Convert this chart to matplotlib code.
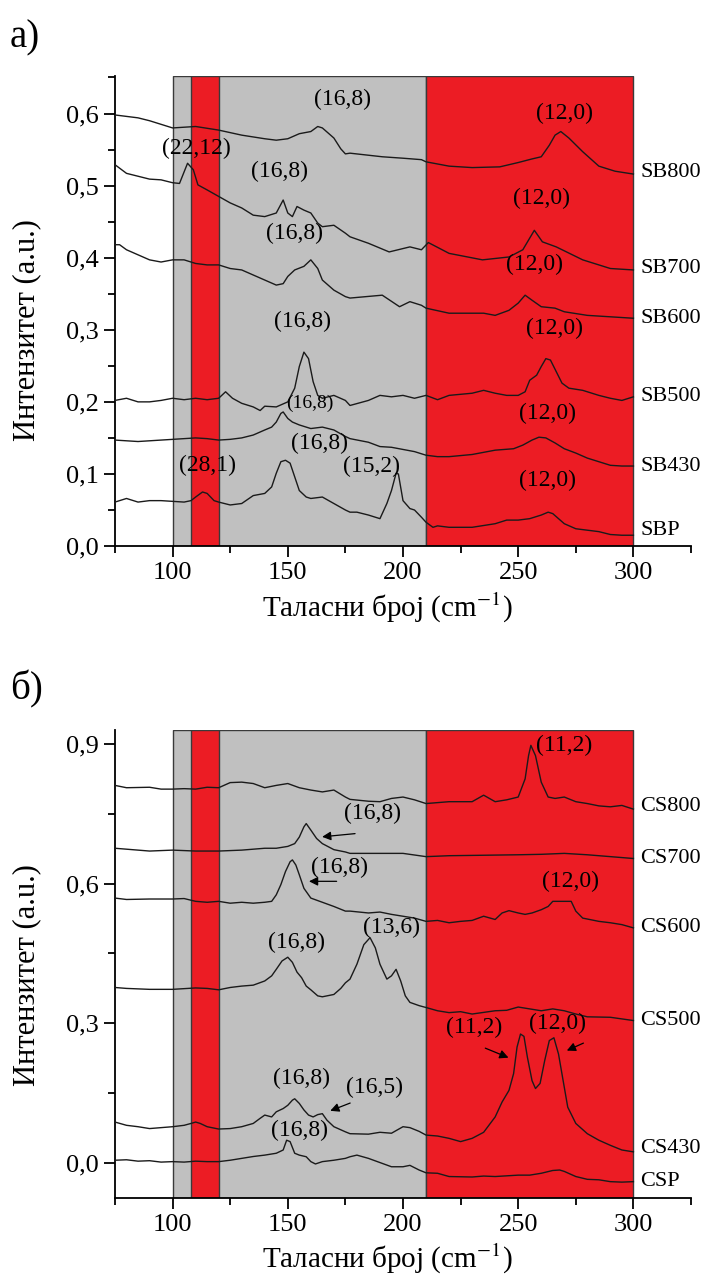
import matplotlib
matplotlib.use("Agg")
import matplotlib.pyplot as plt
from matplotlib.ticker import MultipleLocator

plt.rcParams['font.family'] = ['Liberation Serif', 'DejaVu Serif']
plt.rcParams['mathtext.fontset'] = 'stix'

# ---- panel a) SB samples ----
sb800_x = [75, 80, 85, 90, 95, 100, 110, 120, 130, 140, 145, 150, 155, 160, 163, 165, 170, 173, 175, 177,
           191, 200, 208, 210, 220, 230, 242, 250, 256, 260, 263.5, 266, 268.5, 272, 278, 285, 292, 300]
sb800_y = [.598, .596, .594, .590, .585, .580, .582, .577, .570, .565, .563, .565, .572, .575, .582, .580,
           .566, .551, .544, .545, .540, .538, .536, .533, .527, .525, .526, .532, .537, .540, .556, .570,
           .575, .566, .547, .527, .520, .516]

sb700_x = [75, 80, 85, 90, 95, 100, 103, 106.5, 109, 111, 115, 120, 125, 130, 135, 140, 145, 148, 150, 152,
           154, 157, 160, 163, 165, 170, 175, 177, 185, 194, 203, 208, 211, 220, 234.5, 246, 252, 257, 260.5,
           266.5, 278, 290, 300]
sb700_y = [.529, .517, .513, .509, .508, .504, .503, .531, .522, .501, .494, .485, .476, .469, .459, .457,
           .462, .480, .462, .457, .471, .466, .462, .448, .443, .445, .434, .429, .420, .408, .415, .411,
           .421, .406, .397, .401, .411, .438, .422, .415, .397, .385, .383]

sb600_x = [75, 77, 80, 85, 90, 95, 100, 105, 110, 115, 120, 125, 130, 135, 140, 145, 148, 150, 153, 157,
           160, 163, 165, 170, 175, 177, 191, 198.5, 203, 208, 210, 220, 235, 240, 246, 250, 253, 256, 260,
           266, 270, 280, 290, 300]
sb600_y = [.418, .418, .411, .404, .397, .394, .397, .397, .392, .390, .390, .385, .383, .376, .369, .362,
           .364, .374, .383, .388, .397, .385, .369, .355, .346, .344, .348, .332, .339, .334, .330, .323,
           .323, .320, .327, .337, .348, .341, .332, .330, .325, .320, .318, .316]

sb500_x = [75, 80, 85, 90, 95, 100, 105, 110, 115, 120, 123, 126, 130, 135, 138, 140, 145, 150, 153, 155,
           157, 159, 161, 163, 165, 170, 175, 177, 185, 190, 195, 200, 205, 210, 215, 220, 230, 235, 240,
           245, 250, 253, 255, 258, 260, 262, 264, 266.5, 269, 272, 278, 285, 290, 295, 300]
sb500_y = [.202, .205, .200, .200, .202, .205, .203, .205, .203, .205, .214, .205, .198, .193, .188, .194,
           .193, .200, .219, .249, .269, .260, .228, .209, .205, .209, .202, .195, .202, .209, .207, .209,
           .205, .209, .203, .209, .212, .216, .212, .209, .209, .214, .230, .237, .249, .260, .258, .242,
           .226, .219, .216, .209, .205, .202, .207]

sb430_x = [75, 85, 90, 100, 110, 115, 120, 125, 130, 135, 140, 143, 145, 147, 148, 150, 152, 155, 160, 165,
           170, 175, 177, 185, 190, 195, 200, 205, 210, 215, 220, 230, 240, 248, 252, 256, 259, 262, 266,
           270, 275, 280, 285, 290, 295, 300]
sb430_y = [.147, .145, .146, .148, .150, .149, .147, .148, .150, .154, .161, .165, .172, .184, .186, .177,
           .172, .168, .163, .165, .161, .152, .149, .144, .138, .137, .134, .131, .126, .124, .124, .127,
           .133, .135, .140, .147, .151, .150, .143, .135, .129, .122, .117, .112, .111, .111]

sbp_x = [75, 80, 85, 90, 95, 100, 105, 108, 110, 113, 115, 118, 120, 125, 130, 135, 140, 143, 145, 147,
         149, 151, 153, 155, 158, 160, 165, 170, 175, 177, 180, 185, 190, 193, 195, 197, 198, 200, 203, 205,
         208, 210, 213, 215, 220, 230, 240, 245, 250, 255, 260, 263, 265, 270, 275, 280, 285, 290, 295, 300]
sbp_y = [.061, .066, .061, .063, .063, .062, .061, .063, .068, .075, .073, .063, .061, .057, .059, .070,
         .073, .082, .101, .117, .119, .115, .096, .077, .068, .066, .068, .059, .050, .047, .047, .043,
         .038, .059, .077, .101, .100, .063, .052, .050, .040, .033, .026, .028, .026, .026, .031, .036,
         .036, .038, .043, .047, .045, .031, .024, .022, .020, .016, .015, .015]

# ---- panel б) CS samples ----
cs800_x = [75, 80, 90, 95, 100, 105, 110, 115, 120, 125, 130, 135, 140, 145, 150, 155, 160, 165, 170, 175,
           177, 185, 190, 195, 200, 205, 210, 220, 230, 235, 240, 245, 250, 253, 254.5, 255.5, 257.5, 260,
           263, 266, 270, 275, 280, 285, 290, 295, 300]
cs800_y = [.811, .806, .807, .803, .803, .804, .803, .807, .806, .817, .818, .815, .806, .811, .815, .806,
           .801, .797, .801, .786, .781, .777, .776, .783, .786, .780, .772, .776, .776, .790, .776, .780,
           .786, .825, .875, .897, .875, .818, .786, .783, .786, .776, .772, .767, .765, .768, .760]

cs700_x = [75, 80, 90, 100, 110, 120, 130, 140, 145, 150, 153, 155, 157, 158, 160, 162.5, 165, 170, 175,
           177, 200, 210, 220, 250, 260, 270, 280, 290, 300]
cs700_y = [.676, .674, .670, .672, .670, .670, .672, .676, .676, .680, .686, .700, .722, .729, .715, .697,
           .686, .673, .668, .665, .665, .658, .660, .662, .663, .665, .662, .658, .654]

cs600_x = [75, 80, 90, 100, 105, 110, 115, 120, 125, 130, 135, 140, 143, 145, 147, 149, 151, 152, 153.5,
           155, 157, 160, 165, 170, 175, 177, 185, 190, 195, 200, 205, 210, 215, 220, 225, 230, 235, 240,
           243, 246, 250, 253, 256, 260, 263, 265, 270, 273, 275, 278, 285, 290, 295, 300]
cs600_y = [.569, .566, .567, .567, .568, .562, .560, .562, .558, .560, .558, .560, .562, .576, .598, .626,
           .647, .651, .640, .619, .590, .569, .560, .551, .541, .541, .537, .539, .534, .530, .526, .519,
           .521, .516, .519, .521, .530, .523, .537, .542, .537, .534, .537, .544, .551, .562, .562, .562,
           .541, .526, .519, .516, .512, .505]

cs500_x = [75, 80, 90, 100, 110, 115, 120, 125, 130, 135, 140, 143, 145, 147.5, 150, 152, 154, 156, 158,
           160, 163, 165, 170, 173, 175, 177, 180, 183, 185.7, 188, 190, 193, 195, 197, 199, 201, 203, 207,
           210, 215, 220, 225, 230, 240, 245, 250, 255, 260, 265, 270, 275, 280, 290, 300]
cs500_y = [.377, .375, .373, .373, .376, .375, .372, .377, .380, .382, .391, .402, .416, .434, .442, .431,
           .410, .398, .380, .372, .359, .357, .362, .375, .387, .395, .427, .469, .484, .462, .427, .395,
           .402, .416, .391, .359, .345, .338, .334, .327, .323, .325, .320, .327, .328, .335, .331, .327,
           .331, .327, .320, .314, .313, .306]

cs430_x = [75, 80, 85, 90, 95, 100, 105, 108, 110, 112, 115, 120, 125, 130, 135, 138, 140, 143, 145, 148,
           150, 152, 153, 155, 157, 159, 161, 163, 165, 167, 170, 175, 177, 185, 190, 195, 200, 203, 207,
           210, 215, 220, 225, 230, 235, 240, 243, 246, 248, 249.5, 251, 252.5, 254, 256, 257.5, 259.5,
           261.5, 263.5, 265.5, 267.5, 269.5, 271.5, 275, 280, 285, 290, 295, 300]
cs430_y = [.088, .081, .078, .074, .076, .078, .081, .085, .088, .085, .078, .073, .074, .078, .085, .096,
           .103, .099, .110, .117, .124, .135, .138, .128, .114, .103, .099, .104, .106, .092, .078, .067,
           .063, .062, .066, .064, .078, .076, .068, .060, .058, .053, .046, .053, .066, .099, .131, .156,
           .192, .249, .277, .272, .227, .177, .160, .171, .220, .263, .269, .234, .177, .120, .085, .063,
           .049, .038, .028, .024]

csp_x = [75, 80, 85, 90, 95, 100, 105, 110, 115, 120, 125, 130, 135, 140, 145, 148, 149.5, 151, 153, 155,
         158, 160, 162, 165, 170, 175, 177, 180, 185, 190, 195, 200, 203, 207, 210, 215, 220, 230, 235, 240,
         250, 255, 260, 265, 268, 270, 275, 280, 285, 290, 295, 300]
csp_y = [.006, .007, .004, .005, .002, .003, .002, .004, .003, .003, .006, .010, .014, .017, .021, .028,
         .049, .046, .021, .017, .0135, .003, -.002, .003, .006, .010, .0135, .017, .010, .001, -.008,
         -.008, -.005, -.015, -.021, -.022, -.029, -.030, -.028, -.029, -.026, -.026, -.022, -.016, -.015,
         -.018, -.029, -.035, -.036, -.040, -.041, -.040]

sb_names = ["SB800", "SB700", "SB600", "SB500", "SB430", "SBP"]
sb_label_y = [0.518, 0.385, 0.316, 0.207, 0.110, 0.022]
cs_names = ["CS800", "CS700", "CS600", "CS500", "CS430", "CSP"]
cs_label_y = [0.765, 0.654, 0.505, 0.307, 0.031, -0.040]

# (text, x, y, fontsize)
sb_notes = [("(16,8)", 173.7, 0.619, 17), ("(12,0)", 270, 0.600, 17), ("(22,12)", 110.3, 0.552, 17),
            ("(16,8)", 146.4, 0.519, 17), ("(16,8)", 152.9, 0.434, 17), ("(12,0)", 259.9, 0.482, 17),
            ("(12,0)", 257, 0.390, 17), ("(16,8)", 156.5, 0.311, 17), ("(12,0)", 265.7, 0.302, 17),
            ("(16,8)", 159.4, 0.198, 14), ("(12,0)", 262.8, 0.184, 17), ("(16,8)", 163.7, 0.142, 17),
            ("(28,1)", 115.3, 0.112, 17), ("(15,2)", 186.2, 0.111, 17), ("(12,0)", 262.8, 0.091, 17)]
cs_notes = [("(11,2)", 270, 0.897, 17), ("(16,8)", 186.9, 0.751, 17), ("(16,8)", 172.4, 0.635, 17),
            ("(12,0)", 272.9, 0.605, 17), ("(16,8)", 153.6, 0.473, 17), ("(13,6)", 194.8, 0.505, 17),
            ("(11,2)", 231, 0.291, 17), ("(12,0)", 267.1, 0.299, 17), ("(16,8)", 155.8, 0.181, 17),
            ("(16,5)", 187.6, 0.163, 17), ("(16,8)", 155.1, 0.0705, 17)]
# arrows: tail x, tail y, head x, head y
cs_arrows = [(180.4, 0.708, 163.7, 0.700), (172.4, 0.605, 158.0, 0.605), (234.6, 0.249, 246.9, 0.224),
             (279.4, 0.260, 270.0, 0.239), (178.2, 0.131, 167.3, 0.110)]

gray = "#c0c0c0"
red = "#ec1c24"
edge = "#3a3a3a"


def draw_panel(ax, curves, names, label_y, notes, ylim, major, minor, ylab_y):
    ax.axvspan(100, 210, facecolor=gray, edgecolor=edge, lw=1.0, zorder=0)
    ax.axvspan(108, 120, facecolor=red, edgecolor=edge, lw=1.0, zorder=0)
    ax.axvspan(210, 300, facecolor=red, edgecolor=edge, lw=1.0, zorder=0)
    for x, y in curves:
        ax.plot(x, y, color="#1a1a1a", lw=1.0, zorder=3)
    for n, yy in zip(names, label_y):
        ax.text(303, yy, n, fontsize=16, va="center", ha="left", clip_on=False)
    for t, x, y, fs in notes:
        ax.text(x, y, t, fontsize=fs, ha="center", va="center", zorder=4)
    ax.set_xlim(75, 325)
    ax.set_ylim(*ylim)
    ax.xaxis.set_major_locator(MultipleLocator(50))
    ax.xaxis.set_minor_locator(MultipleLocator(25))
    ax.yaxis.set_major_locator(MultipleLocator(major))
    ax.yaxis.set_minor_locator(MultipleLocator(minor))
    ax.yaxis.set_major_formatter(lambda v, p: ("%.1f" % v).replace(".", ","))
    ax.spines["top"].set_visible(False)
    ax.spines["right"].set_visible(False)
    for s in ("left", "bottom"):
        ax.spines[s].set_linewidth(1.3)
    ax.tick_params(which="major", direction="out", length=8, width=1.3, labelsize=19)
    ax.tick_params(which="minor", direction="out", length=5, width=1.3)
    ax.set_xlabel("Таласни број (cm$^{-1}$)", fontsize=21)
    ax.set_ylabel("Интензитет (a.u.)", fontsize=22)
    ax.xaxis.set_label_coords(0.472, -0.095)
    ax.yaxis.set_label_coords(-0.128, ylab_y)


fig = plt.figure(figsize=(7.08, 12.8), dpi=100)
ax1 = fig.add_axes([0.1624, 0.5734, 0.8136, 0.3672])
ax2 = fig.add_axes([0.1624, 0.0641, 0.8136, 0.3656])

draw_panel(ax1, [(sb800_x, sb800_y), (sb700_x, sb700_y), (sb600_x, sb600_y),
                 (sb500_x, sb500_y), (sb430_x, sb430_y), (sbp_x, sbp_y)],
           sb_names, sb_label_y, sb_notes, (0, 0.652), 0.1, 0.05, 0.46)
draw_panel(ax2, [(cs800_x, cs800_y), (cs700_x, cs700_y), (cs600_x, cs600_y),
                 (cs500_x, cs500_y), (cs430_x, cs430_y), (csp_x, csp_y)],
           cs_names, cs_label_y, cs_notes, (-0.075, 0.93), 0.3, 0.15, 0.476)

for tx, ty, hx, hy in cs_arrows:
    ax2.annotate("", xy=(hx, hy), xytext=(tx, ty),
                 arrowprops=dict(arrowstyle="-|>", color="black", lw=0.9, mutation_scale=13), zorder=5)

fig.text(0.014, 0.985, "а)", fontsize=28, va="top", ha="left")
fig.text(0.014, 0.476, "б)", fontsize=28, va="top", ha="left")

fig.savefig("out.png", dpi=100)
